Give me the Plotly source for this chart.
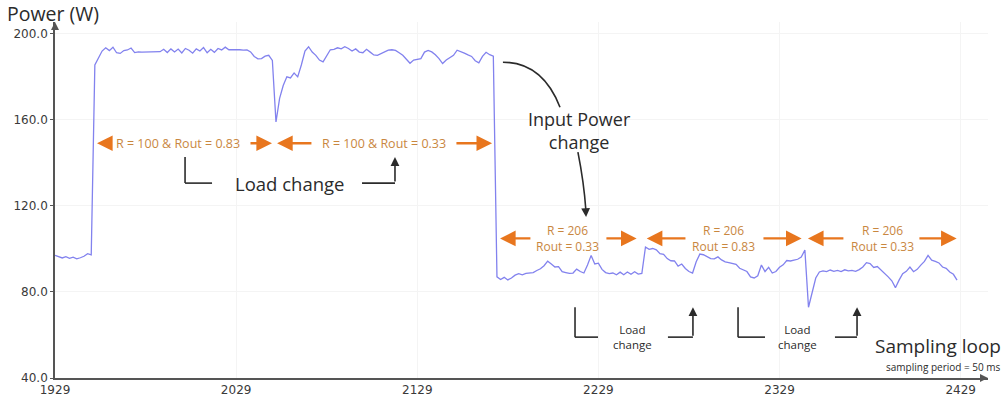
import plotly.graph_objects as go

# Measured input power, one value every 2 sampling loops (W)
idle_start = 1929
idle_w = [97.0, 96.5, 95.8, 96.4, 95.6, 96.2, 95.4, 95.9, 96.6, 97.8, 97.2]

stage1_start = 1951  # R = 100, Rout = 0.83
stage1_w = [185.5, 188.5, 192.0, 193.5, 192.2, 193.8, 191.2, 190.9, 192.2, 192.5,
            193.4, 191.3, 191.6, 191.5, 191.5, 191.6, 191.5, 191.5, 191.7, 192.8,
            191.3, 193.0, 191.6, 192.9, 191.1, 193.2, 192.4, 191.0, 193.0, 192.0,
            193.6, 191.2, 192.8, 191.4, 193.2, 192.5, 193.8, 192.6, 192.7, 192.5,
            192.6, 192.4, 192.5, 191.6, 189.5, 188.4, 188.5, 189.6, 190.0, 187.6]

stage2_start = 2051  # R = 100, Rout = 0.33
stage2_w = [159.0, 170.0, 176.0, 180.0, 179.5, 181.8, 180.0, 185.5, 192.0, 194.0,
            191.5, 190.0, 187.8, 187.0, 189.5, 192.6, 192.8, 193.5, 193.0, 194.0,
            193.2, 192.0, 193.0, 191.5, 191.2, 192.8, 191.5, 190.2, 190.0, 190.8,
            191.6, 192.4, 192.6, 192.3, 191.2, 190.0, 188.2, 186.3, 187.8, 188.0,
            188.5, 191.5, 192.3, 191.6, 190.3, 188.5, 186.2, 187.8, 188.8, 190.0,
            192.4, 191.8, 191.0, 190.2, 189.5, 187.5, 186.5, 189.5, 191.4, 190.3,
            189.6]

stage3_start = 2173  # R = 206, Rout = 0.33
stage3_w = [87.0, 85.8, 86.8, 85.6, 86.5, 87.8, 88.5, 88.0, 88.6, 88.8, 89.0,
            90.0, 90.8, 92.2, 94.3, 93.0, 91.6, 91.8, 89.4, 89.0, 88.6,
            88.8, 90.6, 89.5, 88.8, 92.5, 97.0, 93.0, 93.4, 90.5, 89.0,
            88.5, 88.8, 88.0, 89.2, 88.0, 89.3, 88.2, 89.4, 88.3, 88.6]

stage4_start = 2255  # R = 206, Rout = 0.83
stage4_w = [100.9, 99.8, 100.2, 99.6, 97.8, 97.5, 95.5, 94.5, 94.4, 92.0,
            93.0, 90.9, 89.5, 88.8, 94.0, 97.6, 97.3, 96.2, 95.5, 95.4,
            96.3, 94.9, 94.0, 93.6, 93.3, 92.8, 91.0, 90.4, 89.5, 87.0,
            86.5, 87.5, 92.5, 89.5, 91.4, 88.8, 89.5, 91.5, 92.6, 94.6,
            94.4, 94.8, 95.2, 96.2, 99.5]

stage5_start = 2345  # R = 206, Rout = 0.33
stage5_w = [72.9, 79.5, 86.5, 89.3, 89.8, 89.5, 90.2, 89.6, 90.0, 89.5,
            90.3, 89.8, 90.0, 89.6, 90.4, 91.6, 93.6, 93.2, 91.4, 91.8,
            90.2, 89.0, 87.0, 85.2, 82.0, 85.5, 88.5, 89.6, 91.6, 89.4,
            90.5, 92.5, 94.2, 97.0, 94.8, 94.2, 93.5, 91.6, 91.0, 89.3,
            88.2, 85.5]

x_ticks = [1929, 2029, 2129, 2229, 2329, 2429]
y_ticks = [40, 80, 120, 160, 200]

segments = [(idle_start, idle_w), (stage1_start, stage1_w), (stage2_start, stage2_w),
            (stage3_start, stage3_w), (stage4_start, stage4_w), (stage5_start, stage5_w)]
loop_idx, power = [], []
for start, vals in segments:
    loop_idx += list(range(start, start + 2 * len(vals), 2))
    power += vals

FONT = "Open Sans"
DARK = "#2b2b2b"
ORANGE = "#E8761E"
ORANGE_TXT = "#C9873F"

fig = go.Figure()
fig.add_trace(go.Scatter(x=loop_idx, y=power, mode="lines",
                         line=dict(color="#8282EE", width=1.3),
                         hoverinfo="skip", showlegend=False))

annotations = []
shapes = []


def half_arrow(x_head, x_tail, y):
    annotations.append(dict(x=x_head, y=y, ax=x_tail, ay=y, xref="x", yref="y",
                            axref="x", ayref="y", text="", showarrow=True,
                            arrowhead=2, arrowsize=1.3, arrowwidth=2.4,
                            arrowcolor=ORANGE, standoff=0))


# Orange double-headed arrows marking each operating regime, split around the label
def regime(x0, x0_in, x1_in, x1, y, xc, text, size=12):
    half_arrow(x0, x0_in, y)
    half_arrow(x1, x1_in, y)
    annotations.append(dict(x=xc, y=y, xref="x", yref="y", text=text, showarrow=False,
                            font=dict(family=FONT, size=size, color=ORANGE_TXT)))

regime(1952.2, 1961.0, 2036.1, 2048.8, 149.1, 1996.9, "R = 100 &amp; Rout = 0.83", 12.5)
regime(2051.6, 2071.4, 2149.8, 2170.3, 149.1, 2110.6, "R = 100 &amp; Rout = 0.33", 12.5)
regime(2174.7, 2192.3, 2232.6, 2250.1, 104.9, 2211.7, "R = 206<br>Rout = 0.33", 12)
regime(2255.7, 2277.9, 2319.3, 2341.2, 104.9, 2298.3, "R = 206<br>Rout = 0.83", 12)
regime(2344.7, 2365.1, 2405.4, 2426.8, 104.9, 2385.6, "R = 206<br>Rout = 0.33", 12)

# "Load change" brackets
def bracket(xl, xl2, xr1, xr2, y_low, y_high, xc, yc, text, size):
    shapes.append(dict(type="line", xref="x", yref="y", x0=xl, y0=y_high, x1=xl, y1=y_low,
                       line=dict(color=DARK, width=1.6)))
    shapes.append(dict(type="line", xref="x", yref="y", x0=xl, y0=y_low, x1=xl2, y1=y_low,
                       line=dict(color=DARK, width=1.6)))
    shapes.append(dict(type="line", xref="x", yref="y", x0=xr1, y0=y_low, x1=xr2, y1=y_low,
                       line=dict(color=DARK, width=1.6)))
    annotations.append(dict(x=xr2, y=y_high, ax=xr2, ay=y_low, xref="x", yref="y",
                            axref="x", ayref="y", text="", showarrow=True, arrowhead=2,
                            arrowsize=1.1, arrowwidth=1.6, arrowcolor=DARK, standoff=0))
    annotations.append(dict(x=xc, y=yc, xref="x", yref="y", text=text, showarrow=False,
                            font=dict(family=FONT, size=size, color=DARK)))

bracket(2000.8, 2015.7, 2098.5, 2116.7, 130.6, 142.7, 2058.7, 130.4, "Load change", 18.5)
bracket(2216.1, 2228.8, 2267.4, 2281.2, 59.0, 72.9, 2248.1, 59.0, "Load<br>change", 11.5)
bracket(2306.1, 2321.0, 2359.6, 2371.8, 59.0, 72.9, 2339.2, 59.0, "Load<br>change", 11.5)

# Input power change callout
annotations.append(dict(x=2218.8, y=155.1, xref="x", yref="y", text="Input Power<br>change",
                        showarrow=False, font=dict(family=FONT, size=18, color=DARK)))
shapes.append(dict(type="path", xref="x", yref="y",
                   path="M 2176.3,186.8 Q 2198.1,186.8 2207.8,165.9",
                   line=dict(color=DARK, width=1.6)))
shapes.append(dict(type="path", xref="x", yref="y",
                   path="M 2217.7,145.0 Q 2221.0,131.0 2222.1,118.0",
                   line=dict(color=DARK, width=1.6)))
annotations.append(dict(x=2222.2, y=114.8, ax=-0.5, ay=-9, xref="x", yref="y", text="",
                        showarrow=True, arrowhead=2, arrowsize=1.1, arrowwidth=1.6,
                        arrowcolor=DARK, standoff=0))

# Axis arrowheads
annotations.append(dict(x=1, y=0, xref="paper", yref="paper", ax=-9, ay=0, text="",
                        showarrow=True, arrowhead=2, arrowsize=1, arrowwidth=1.6,
                        arrowcolor="#555", standoff=0))
annotations.append(dict(x=0, y=1, xref="paper", yref="paper", ax=0, ay=9, text="",
                        showarrow=True, arrowhead=2, arrowsize=1, arrowwidth=1.6,
                        arrowcolor="#555", standoff=0))

# Axis titles
annotations.append(dict(x=-0.0536, y=1.0225, xref="paper", yref="paper", text="Power (W)",
                        showarrow=False, xanchor="left", yanchor="middle",
                        font=dict(family=FONT, size=19.5, color=DARK)))
annotations.append(dict(x=1.016, y=0.090, xref="paper", yref="paper", text="Sampling loop",
                        showarrow=False, xanchor="right", yanchor="middle",
                        font=dict(family=FONT, size=19, color=DARK)))
annotations.append(dict(x=1.016, y=0.030, xref="paper", yref="paper",
                        text="sampling period = 50 ms", showarrow=False,
                        xanchor="right", yanchor="middle",
                        font=dict(family=FONT, size=10, color=DARK)))

fig.update_layout(
    width=1006, height=396,
    margin=dict(l=55, r=18, t=22, b=18),
    paper_bgcolor="white", plot_bgcolor="white",
    annotations=annotations, shapes=shapes,
    xaxis=dict(range=[1929, 2444.1], tickvals=x_ticks, ticktext=[str(v) for v in x_ticks],
               showline=True, linecolor="#555", linewidth=1.6, ticks="", ticklen=0,
               showgrid=True, gridcolor="#f4f4f4", zeroline=False,
               automargin=False,
               tickfont=dict(family="DejaVu Sans", size=12, color="#3a3a3a")),
    yaxis=dict(range=[40, 205.5], tickvals=y_ticks, ticktext=[f"{v:.1f}" for v in y_ticks],
               showline=True, linecolor="#555", linewidth=1.6, ticks="outside", ticklen=3,
               tickcolor="#555", showgrid=True, gridcolor="#f4f4f4", zeroline=False,
               automargin=False,
               tickfont=dict(family="DejaVu Sans", size=12, color="#3a3a3a")),
)

fig.write_html("out.html")
